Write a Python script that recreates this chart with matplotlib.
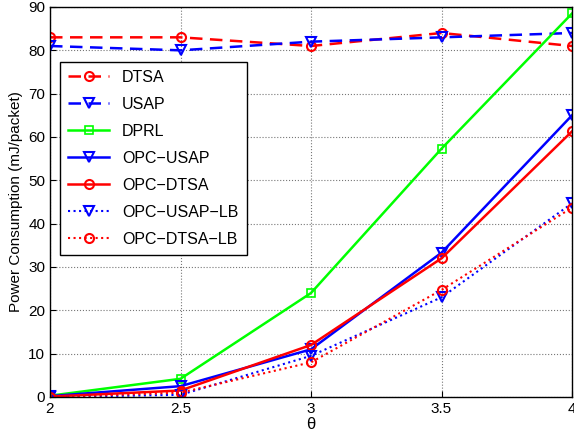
import matplotlib
matplotlib.use('Agg')
import matplotlib.pyplot as plt

plt.rcParams['font.family'] = ['Liberation Sans', 'DejaVu Sans']

theta = [2, 2.5, 3, 3.5, 4]
dtsa = [83, 83, 81, 84, 81]
usap = [81, 80, 82, 83, 84]
dprl = [0.3, 4.2, 24, 57.3, 88.5]
opc_usap = [0.2, 2.5, 11, 33.3, 65]
opc_dtsa = [0.1, 1.5, 12, 32, 61.3]
opc_usap_lb = [0, 0.5, 9.5, 23, 44.7]
opc_dtsa_lb = [0, 1, 8, 24.7, 43.7]

fig = plt.figure(figsize=(5.74, 4.34), dpi=100)
ax = fig.add_axes([50/574, 37/434, 522/574, 390/434])

ax.plot(theta, dtsa, 'r--o', lw=1.8, ms=6.5, mfc='none', mew=1.5, dashes=(5, 3), label='DTSA')
ax.plot(theta, usap, 'b--v', lw=1.8, ms=6.5, mfc='none', mew=1.5, dashes=(5, 3), label='USAP')
ax.plot(theta, dprl, color='#00ff00', ls='-', marker='s', lw=1.8, ms=5.5, mfc='none', mew=1.2, label='DPRL')
ax.plot(theta, opc_usap, 'b-v', lw=1.8, ms=6.5, mfc='none', mew=1.5, label='OPC\u2212USAP')
ax.plot(theta, opc_dtsa, 'r-o', lw=1.8, ms=6.5, mfc='none', mew=1.5, label='OPC\u2212DTSA')
ax.plot(theta, opc_usap_lb, 'b:v', lw=1.5, ms=6.5, mfc='none', mew=1.5, label='OPC\u2212USAP\u2212LB')
ax.plot(theta, opc_dtsa_lb, 'r:o', lw=1.5, ms=6.5, mfc='none', mew=1.5, label='OPC\u2212DTSA\u2212LB')

ax.set_xlim(2, 4)
ax.set_ylim(0, 90)
ax.set_xticks([2, 2.5, 3, 3.5, 4])
ax.set_xticklabels(['2', '2.5', '3', '3.5', '4'])
ax.set_yticks(range(0, 91, 10))
ax.grid(True, ls=':', color='#777777', lw=0.8)
ax.tick_params(direction='in', labelsize=11, length=4)
for s in ax.spines.values():
    s.set_linewidth(1.0)
ax.set_xlabel('\u03b8', fontsize=12, labelpad=1)
ax.set_ylabel('Power Consumption (mJ/packet)', fontsize=11)

leg = ax.legend(loc='upper left', bbox_to_anchor=(0.019, 0.859), borderaxespad=0,
                fontsize=11.5, fancybox=False, framealpha=1, edgecolor='black',
                handlelength=2.6, labelspacing=0.75, borderpad=0.5)
leg.get_frame().set_linewidth(1.0)

fig.savefig('out.png', dpi=100)
